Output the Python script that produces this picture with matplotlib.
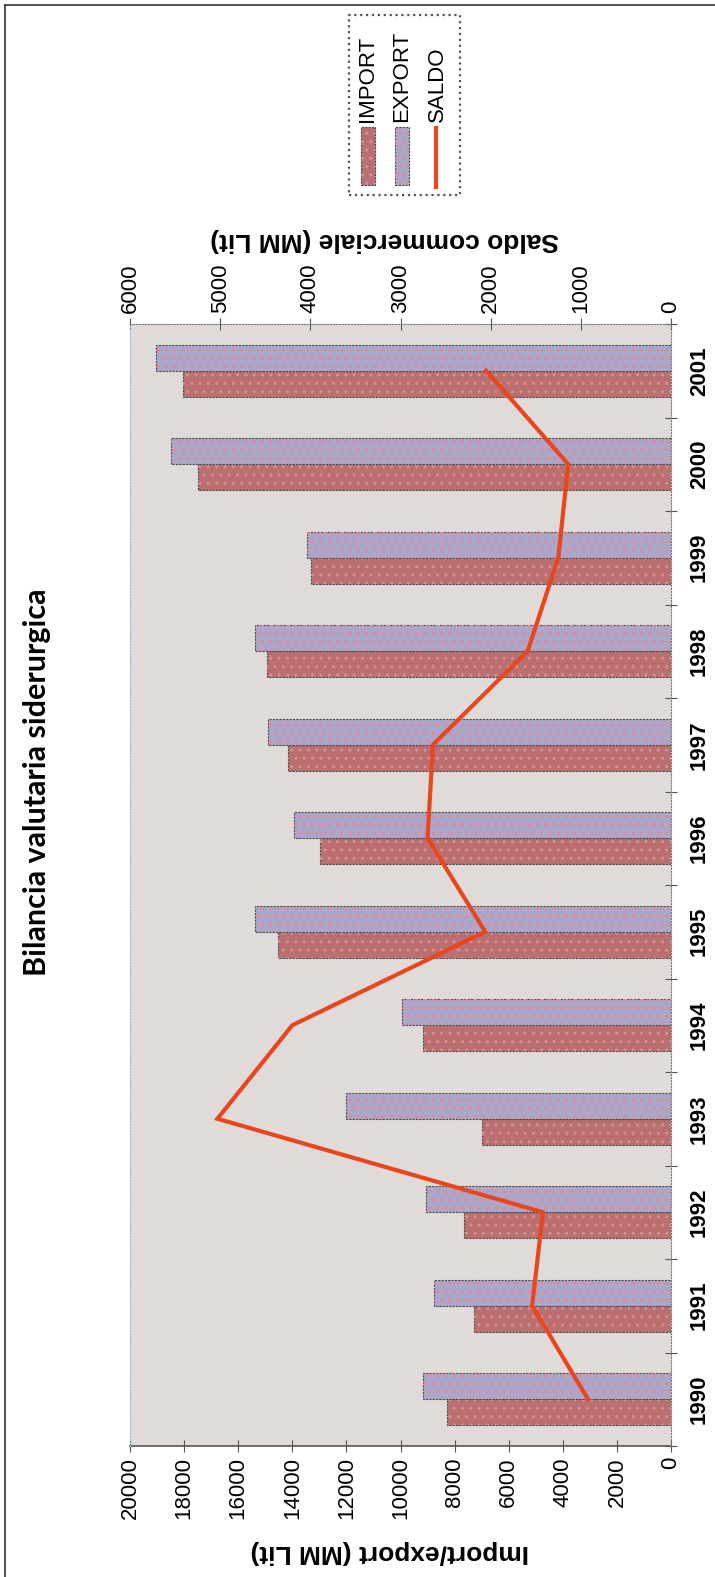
import matplotlib.pyplot as plt
import numpy as np
from matplotlib.lines import Line2D
from matplotlib.patches import Rectangle

# Dati (miliardi di lire)
anni = [1990, 1991, 1992, 1993, 1994, 1995, 1996, 1997, 1998, 1999, 2000, 2001]
importazioni = [8280, 7280, 7650, 6990, 9170, 14530, 12980, 14160, 14940, 13300, 17490, 18040]
esportazioni = [9170, 8760, 9060, 12010, 9940, 15380, 13940, 14900, 15380, 13460, 18480, 19040]
saldo = [920, 1540, 1420, 5030, 4200, 2060, 2700, 2640, 1590, 1250, 1140, 2050]

C_IMP = '#b9706f'
C_EXP = '#aea6c8'
C_DOT = '#d98c9a'
C_SALDO = '#e8461e'
C_BG = '#e0dbd8'
C_EDGE = '#4a4a4a'

plt.rcParams['font.family'] = 'Liberation Sans'

W, H = 715, 1577
fig = plt.figure(figsize=(W / 100, H / 100), dpi=100)


def fx(px):
    return px / W


def fy(py):
    return 1 - py / H


# area del grafico (ruotato di 90 gradi: anni in verticale)
ax = fig.add_axes([fx(130), fy(1446), fx(671 - 130), (1446 - 324) / H])
ax.set_facecolor(C_BG)

y = np.array(anni)
h = 0.28
for vals, off, col in [(importazioni, -h / 2, C_IMP), (esportazioni, h / 2, C_EXP)]:
    ax.barh(y + off, vals, height=h, color=col, edgecolor=C_EDGE,
            linewidth=0.8, linestyle=(0, (2, 1)))
    ax.barh(y + off, vals, height=h, facecolor='none', edgecolor=C_DOT,
            hatch='..', linewidth=0)

ax.set_xlim(20000, 0)
ax.set_ylim(anni[0] - 0.5, anni[-1] + 0.5)
ax.set_xticks(range(0, 20001, 2000))
ax.tick_params(axis='x', direction='inout', length=8, color='#555',
               labelsize=16, labelrotation=90, pad=4)

# anni sul lato destro
ax.yaxis.tick_right()
confini = np.arange(anni[0] - 0.5, anni[-1] + 1, 1)
ax.set_yticks(confini, labels=[''] * len(confini))
ax.set_yticks(anni, labels=[str(a) for a in anni], minor=True)
ax.tick_params(axis='y', which='major', direction='inout', length=8, color='#555')
ax.tick_params(axis='y', which='minor', length=0, pad=13)
for lbl in ax.get_yticklabels(minor=True):
    lbl.set_rotation(90)
    lbl.set_fontsize(16)
    lbl.set_fontweight('bold')
    lbl.set_va('center')

for s in ['top', 'left', 'right']:
    ax.spines[s].set_visible(False)
ax.spines['bottom'].set_color('#555')
ax.spines['bottom'].set_linewidth(1.2)

# asse del saldo in alto
ax2 = ax.twiny()
ax2.set_xlim(6000, 0)
ax2.set_xticks(range(0, 6001, 1000))
ax2.tick_params(axis='x', direction='inout', length=8, color='#555',
                labelsize=16, labelrotation=90, pad=4)
ax2.plot(saldo, anni, color=C_SALDO, linewidth=3, solid_joinstyle='miter')
ax2.spines['bottom'].set_visible(False)
ax2.spines['top'].set_linestyle(':')
ax2.spines['top'].set_color('#777')
ax2.spines['right'].set_linestyle(':')
ax2.spines['right'].set_color('#777')
ax2.spines['left'].set_linestyle(':')
ax2.spines['left'].set_color('#9bb8cc')

ax.text(0.48, -0.0945, 'Import/export (MM Lit)', transform=ax.transAxes,
        rotation=180, ha='center', va='center', fontsize=19, fontweight='bold')
ax.text(0.47, 1.0749, 'Saldo commerciale (MM Lit)', transform=ax.transAxes,
        rotation=180, ha='center', va='center', fontsize=19, fontweight='bold')

fig.text(fx(37), fy(782), 'Bilancia valutaria siderurgica', rotation=90,
         ha='center', va='center', fontsize=22, fontweight='bold', family='Lato')

# cornice esterna
fig.add_artist(Line2D([fx(5), fx(5)], [0, fy(5)], color='#333', lw=1.2))
fig.add_artist(Line2D([fx(5), 1], [fy(5), fy(5)], color='#333', lw=1.2))

# legenda
fig.add_artist(Rectangle((fx(349), fy(195)), fx(111), 180 / H, transform=fig.transFigure,
                         facecolor='white', edgecolor='#555', linestyle=':', lw=1.6))
for x0, col, nome in [(361, C_IMP, 'IMPORT'), (395, C_EXP, 'EXPORT')]:
    fig.add_artist(Rectangle((fx(x0), fy(185)), fx(14), 58 / H, transform=fig.transFigure,
                             facecolor=col, edgecolor=C_EDGE, linestyle=(0, (2, 1)), lw=0.8))
    fig.add_artist(Rectangle((fx(x0), fy(185)), fx(14), 58 / H, transform=fig.transFigure,
                             facecolor='none', edgecolor=C_DOT, hatch='..', lw=0))
    fig.text(fx(x0 + 7), fy(122), nome, rotation=90, ha='center', va='bottom', fontsize=16)
fig.add_artist(Line2D([fx(436), fx(436)], [fy(187), fy(128)], color=C_SALDO, lw=3))
fig.text(fx(437), fy(122), 'SALDO', rotation=90, ha='center', va='bottom', fontsize=16)

fig.savefig('out.png', dpi=100)
